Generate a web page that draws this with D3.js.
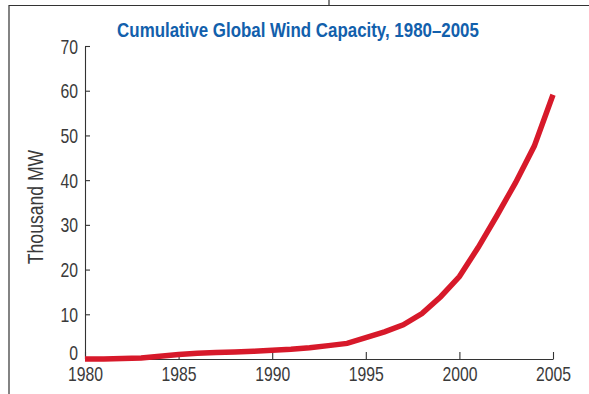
<!DOCTYPE html>
<html>
<head>
<meta charset="utf-8">
<script src="https://cdn.jsdelivr.net/npm/d3@7"></script>
<style>
  html, body { margin: 0; padding: 0; background: #fff; }
  svg { display: block; }
  text { font-family: "Liberation Sans", Arial, sans-serif; }
  .tick text { font-size: 21px; fill: #3a3a3a; }
</style>
</head>
<body>
<svg id="chart" width="589" height="394"></svg>
<script>
// Cumulative installed wind capacity, thousand megawatts
const years = [1980, 1981, 1982, 1983, 1984, 1985, 1986, 1987, 1988, 1989,
               1990, 1991, 1992, 1993, 1994, 1995, 1996, 1997, 1998, 1999,
               2000, 2001, 2002, 2003, 2004, 2005];
const capacity = [0.01, 0.02, 0.09, 0.21, 0.60, 1.02, 1.27, 1.45, 1.58, 1.73,
                  1.93, 2.17, 2.51, 2.99, 3.49, 4.78, 6.07, 7.64, 10.15, 13.93,
                  18.45, 24.93, 32.04, 39.43, 47.62, 59.09];
const xTicks = [1980, 1985, 1990, 1995, 2000, 2005];
const yTicks = [0, 10, 20, 30, 40, 50, 60, 70];

const titleText = "Cumulative Global Wind Capacity, 1980–2005";
const yLabel = "Thousand MW";

const svg = d3.select("#chart");
const plotLeft = 85, plotRight = 553, plotTop = 46, plotBottom = 359;
const narrow = 0.75;   // horizontal squeeze for a condensed look

const x = d3.scaleLinear().domain([1980, 2005]).range([plotLeft, plotRight]);
const y = d3.scaleLinear().domain([0, 70]).range([plotBottom, plotTop]);

// Panel frame
svg.append("path")
  .attr("d", `M9,394 V5.5 H589 M329,0 V5.5`)
  .attr("fill", "none").attr("stroke", "#333").attr("stroke-width", 1.2);

// Title, condensed to its set width
const title = svg.append("text")
  .attr("font-weight", "bold")
  .attr("font-size", 21)
  .attr("fill", "#1260ac")
  .text(titleText);
const titleW = title.node().getComputedTextLength();
const titleScale = 362 / titleW;
title.attr("text-anchor", "middle")
  .attr("transform", `translate(298,37) scale(${titleScale},1)`);

// Y axis with inward ticks
const yAxis = svg.append("g")
  .attr("transform", `translate(${plotLeft},0)`)
  .call(d3.axisLeft(y).tickValues(yTicks).tickSizeInner(-5).tickSizeOuter(0));
yAxis.selectAll(".tick text")
  .attr("x", -7 / narrow)
  .attr("transform", `scale(${narrow},1)`)
  .attr("dy", d => d === 0 ? "0em" : "0.34em");

// X axis with upward ticks
const xAxis = svg.append("g")
  .attr("transform", `translate(0,${plotBottom})`)
  .call(d3.axisBottom(x).tickValues(xTicks).tickFormat(d3.format("d"))
        .tickSizeInner(-7).tickSizeOuter(0));
xAxis.selectAll(".tick text")
  .attr("y", 0)
  .attr("dy", 22)
  .attr("transform", `scale(${narrow},1)`);

[yAxis, xAxis].forEach(g => {
  g.selectAll("path.domain, line").attr("stroke", "#333").attr("stroke-width", 1.1);
});

// Y axis label
svg.append("text")
  .attr("transform", `translate(43,207) rotate(-90) scale(0.8,1)`)
  .attr("text-anchor", "middle")
  .attr("font-size", 22)
  .attr("fill", "#3a3a3a")
  .text(yLabel);

// Capacity line
const line = d3.line()
  .x((d, i) => x(years[i]))
  .y(d => y(d));

svg.append("path")
  .datum(capacity)
  .attr("d", line)
  .attr("fill", "none")
  .attr("stroke", "#d7192a")
  .attr("stroke-width", 5.5)
  .attr("stroke-linejoin", "miter");
</script>
</body>
</html>
